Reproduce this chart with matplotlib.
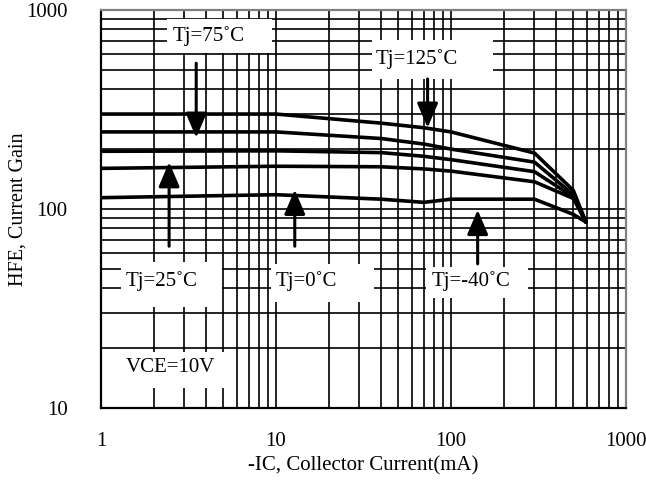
import matplotlib
matplotlib.use("Agg")
import matplotlib.pyplot as plt
from matplotlib.patches import Rectangle
from matplotlib.ticker import FixedLocator, FixedFormatter, LogLocator, NullFormatter

plt.rcParams['font.family'] = ['Liberation Serif', 'DejaVu Serif']

# Collector current (mA) sample points shared by all curves
ic_ma = [1, 10, 40, 70, 100, 300, 500, 590]

# DC current gain vs collector current, one series per junction temperature
hfe_125c = [300, 300, 270, 256, 244, 191, 124, 86]
hfe_75c = [244, 244, 226, 212, 200, 172, 118, 86]
hfe_25c = [195, 196, 192, 184, 177, 154, 115, 86]
hfe_0c = [160, 164, 163, 159, 155, 137, 113, 86]
hfe_m40c = [114, 118, 112, 108, 112, 112, 94, 86]

# Labels and arrows pointing at the curves: (text, arrow x, arrow tail y, arrow tip y)
temp_labels = ["Tj=75˚C", "Tj=125˚C", "Tj=25˚C", "Tj=0˚C", "Tj=-40˚C"]
arrow_x = [3.5, 73.5, 2.45, 12.8, 142]
arrow_tail = [540, 450, 65, 65, 53]
arrow_tip = [228, 256, 172, 125, 99]

x_ticks = [1, 10, 100, 1000]
x_tick_labels = ["1", "10", "100", "1000"]
y_ticks = [10, 100, 1000]
y_tick_labels = ["10", "100", "1000"]

fig = plt.figure(figsize=(6.46, 4.84), dpi=100)
ax = fig.add_axes([101 / 646, 1 - 408 / 484, 525 / 646, 398 / 484])

ax.set_xscale('log')
ax.set_yscale('log')
ax.set_xlim(1, 1000)
ax.set_ylim(10, 1000)

ax.xaxis.set_major_locator(FixedLocator(x_ticks))
ax.xaxis.set_major_formatter(FixedFormatter(x_tick_labels))
ax.yaxis.set_major_locator(FixedLocator(y_ticks))
ax.yaxis.set_major_formatter(FixedFormatter(y_tick_labels))
ax.xaxis.set_minor_locator(LogLocator(base=10, subs=range(2, 10)))
ax.yaxis.set_minor_locator(LogLocator(base=10, subs=range(2, 10)))
ax.xaxis.set_minor_formatter(NullFormatter())
ax.yaxis.set_minor_formatter(NullFormatter())

ax.set_axisbelow(True)
ax.grid(which='both', color='black', linewidth=1.2)
ax.tick_params(which='both', length=0, labelsize=15)
ax.tick_params(axis='x', pad=17)
ax.tick_params(axis='y', pad=24)

for side in ('left', 'bottom'):
    ax.spines[side].set_color('black')
    ax.spines[side].set_linewidth(1.6)
for side in ('top', 'right'):
    ax.spines[side].set_color('#808080')
    ax.spines[side].set_linewidth(1.6)

# White panels behind the annotations (axes-fraction extents)
panels = [
    (0.126, 0.892, 0.200, 0.085),
    (0.516, 0.827, 0.231, 0.098),
    (0.038, 0.254, 0.192, 0.113),
    (0.324, 0.266, 0.196, 0.096),
    (0.619, 0.276, 0.194, 0.078),
    (0.038, 0.050, 0.196, 0.091),
]
for (px, py, pw, ph) in panels:
    ax.add_patch(Rectangle((px, py), pw, ph, transform=ax.transAxes,
                           facecolor='white', edgecolor='none', zorder=1))

for series in (hfe_125c, hfe_75c, hfe_25c, hfe_0c, hfe_m40c):
    ax.plot(ic_ma, series, color='black', linewidth=2.6, zorder=3,
            solid_joinstyle='round', solid_capstyle='round')

for xa, ya, yb in zip(arrow_x, arrow_tail, arrow_tip):
    ax.annotate('', xy=(xa, yb), xytext=(xa, ya),
                arrowprops=dict(arrowstyle='-|>,head_length=0.75,head_width=0.32',
                                color='black', lw=2.2, shrinkA=0, shrinkB=0,
                                mutation_scale=20),
                zorder=4)

# Label text positions in axes fraction
label_pos = [(0.205, 0.934), (0.602, 0.877), (0.116, 0.319), (0.392, 0.319), (0.704, 0.319)]
for txt, (tx, ty) in zip(temp_labels, label_pos):
    ax.text(tx, ty, txt, transform=ax.transAxes, ha='center', va='center',
            fontsize=15, zorder=5)
ax.text(0.133, 0.103, "VCE=10V", transform=ax.transAxes, ha='center', va='center',
        fontsize=15, zorder=5)

ax.set_xlabel("-IC, Collector Current(mA)", fontsize=15, labelpad=4)
ax.set_ylabel("HFE, Current Gain", fontsize=14.5, va='center')
ax.yaxis.set_label_coords(-(101 - 18) / 525, 0.5)

fig.savefig("out.png", dpi=100)
